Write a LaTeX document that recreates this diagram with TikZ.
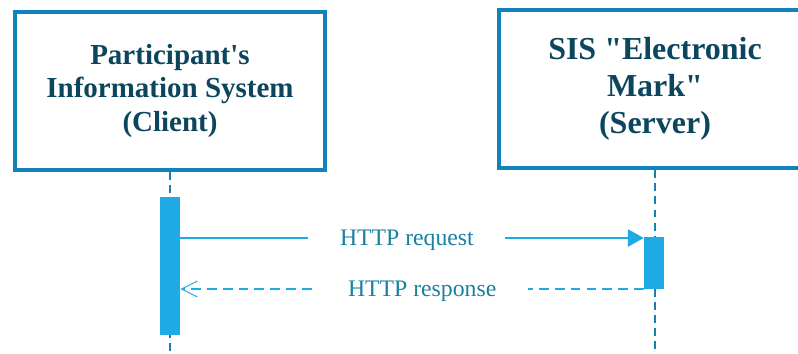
\documentclass[tikz,border=0pt]{standalone}
\usepackage{fontspec}
\setmainfont{Liberation Serif}[Ligatures=TeXOff]
\usetikzlibrary{arrows.meta}
\definecolor{boxblue}{RGB}{16,132,186}
\definecolor{barblue}{RGB}{30,170,226}
\definecolor{headteal}{RGB}{12,70,94}
\definecolor{msgteal}{RGB}{26,128,162}
\definecolor{lineblue}{RGB}{22,128,178}

\begin{document}
\begin{tikzpicture}[x=0.02cm, y=-0.02cm,
    actor/.style={draw=boxblue, line width=2.3pt, fill=white, minimum height=3.16cm,
                  align=center, text=headteal},
    lifeline/.style={draw=lineblue, line width=0.6pt, dash pattern=on 4.5pt off 3pt},
    activation/.style={fill=barblue, draw=none, minimum width=0.4cm, inner sep=0pt},
    msg/.style={draw=barblue, line width=0.6pt},
    msglabel/.style={fill=white, text=msgteal, font=\fontsize{13.5}{16}\selectfont,
                     inner xsep=18pt, inner ysep=1pt, yshift=-1.2pt}]
				            \useasboundingbox (0,0) rectangle (798,354);
				            \clip (0,0) rectangle (798,354);

				            \node[actor, minimum width=6.2cm, font=\fontsize{16.5}{19.3}\selectfont\bfseries]
				            (client) at (170,91)
				            {Participant's\\Information System\\(Client)};
				            \node[actor, minimum width=6.24cm, font=\fontsize{18.2}{21}\selectfont\bfseries]
				            (server) at (655,89)
				            {SIS "Electronic\\Mark"\\(Server)};

				            \coordinate (bottom) at (0,354);
				            \draw[lifeline] (client.south) -- (client.south |- bottom);
				            \draw[lifeline] (server.south) -- (server.south |- bottom);

				            \node[activation, minimum height=2.76cm] (cbar) at (170,266) {};
				            \node[activation, minimum height=1.04cm] (sbar) at (654,263) {};

				            \coordinate (req) at (0,238);
				            \draw[msg, -{Triangle[length=9pt, width=10pt]}]
				            (cbar.east |- req) -- node[msglabel, pos=0.489] {HTTP request} (sbar.west |- req);

				            \coordinate (resp) at (0,289);
				            \draw[msg, dash pattern=on 5.5pt off 3.5pt, -{Straight Barb[length=9pt, width=9pt]}]
				            (sbar.west |- resp) -- node[msglabel, pos=0.478] {HTTP response} (cbar.east |- resp);
			            \end{tikzpicture}
\end{document}
